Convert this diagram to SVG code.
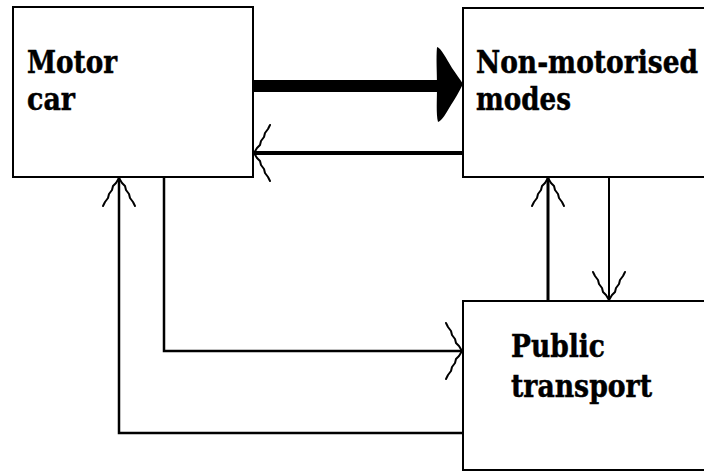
<svg xmlns="http://www.w3.org/2000/svg" width="704" height="472" viewBox="0 0 704 472">
  <style>
    .box { fill: #ffffff; stroke: #000000; stroke-width: 2; }
    .label { font-family: "DejaVu Serif", serif; font-weight: bold; font-size: 31px; fill: #000000; stroke: #000000; stroke-width: 0.5; }
    .link { fill: none; stroke: #000000; stroke-linejoin: miter; }
    .barb { fill: none; stroke: #000000; stroke-width: 2; stroke-linecap: round; stroke-linejoin: round; }
  </style>
  <defs>
    <!-- open, hand-drawn arrowheads; tip at the origin, pointing along +x.
         Wide barbs for horizontal runs, narrow ones for vertical runs. -->
    <marker id="head-wide" markerUnits="userSpaceOnUse" viewBox="-20 -32 22 64" markerWidth="22" markerHeight="64" refX="0" refY="0" orient="auto" overflow="visible">
      <path class="barb" d="M0,0 L-3,-5 L-6,-8 L-7,-12 L-10,-16 L-11,-20 L-14,-24 L-16,-28 M0,0 L-3,5 L-6,8 L-7,12 L-10,16 L-11,20 L-14,24 L-16,28"/>
    </marker>
    <marker id="head-narrow" markerUnits="userSpaceOnUse" viewBox="-32 -20 34 40" markerWidth="34" markerHeight="40" refX="0" refY="0" orient="auto" overflow="visible">
      <path class="barb" d="M0,0 L-5,-3 L-8,-6 L-12,-7 L-16,-10 L-20,-11 L-24,-14 L-28,-16 M0,0 L-5,3 L-8,6 L-12,7 L-16,10 L-20,11 L-24,14 L-28,16"/>
    </marker>
  </defs>

  <rect width="704" height="472" fill="#ffffff"/>

  <g id="motor-car">
    <rect class="box" x="13" y="7" width="240" height="170"/>
    <text class="label" x="27" y="73" textLength="90" lengthAdjust="spacingAndGlyphs">Motor</text>
    <text class="label" x="27" y="110" textLength="48" lengthAdjust="spacingAndGlyphs">car</text>
  </g>

  <g id="non-motorised-modes">
    <rect class="box" x="463" y="8" width="250" height="169"/>
    <text class="label" x="476" y="73" textLength="222" lengthAdjust="spacingAndGlyphs">Non-motorised</text>
    <text class="label" x="476" y="110" textLength="95" lengthAdjust="spacingAndGlyphs">modes</text>
  </g>

  <g id="public-transport">
    <rect class="box" x="463" y="301" width="250" height="169"/>
    <text class="label" x="511" y="357" textLength="94" lengthAdjust="spacingAndGlyphs">Public</text>
    <text class="label" x="511" y="397" textLength="141" lengthAdjust="spacingAndGlyphs">transport</text>
  </g>

  <g id="connectors">
    <!-- heavy arrow: motor car to non-motorised modes -->
    <line x1="254" y1="86" x2="440" y2="86" stroke="#000000" stroke-width="12"/>
    <path d="M437,47 C441,48 446,58 452,68 C456,74 460,79 463,84 C459,92 455,99 451,105 C446,113 442,121 438,122 C436,114 437,100 437,86 C437,72 436,58 437,47 Z" fill="#000000"/>

    <!-- non-motorised modes back to motor car -->
    <path class="link" d="M463,153 L254,153" stroke-width="4" marker-end="url(#head-wide)"/>

    <!-- public transport up to non-motorised modes -->
    <path class="link" d="M548,301 L548,178" stroke-width="3" marker-end="url(#head-narrow)"/>

    <!-- non-motorised modes down to public transport -->
    <path class="link" d="M609,177 L609,300" stroke-width="2" marker-end="url(#head-narrow)"/>

    <!-- public transport back round to motor car -->
    <path class="link" d="M463,433 L119,433 L119,178" stroke-width="2.5" marker-end="url(#head-narrow)"/>

    <!-- motor car round to public transport -->
    <path class="link" d="M164,177 L164,351 L462,351" stroke-width="2.5" marker-end="url(#head-wide)"/>
  </g>
</svg>
